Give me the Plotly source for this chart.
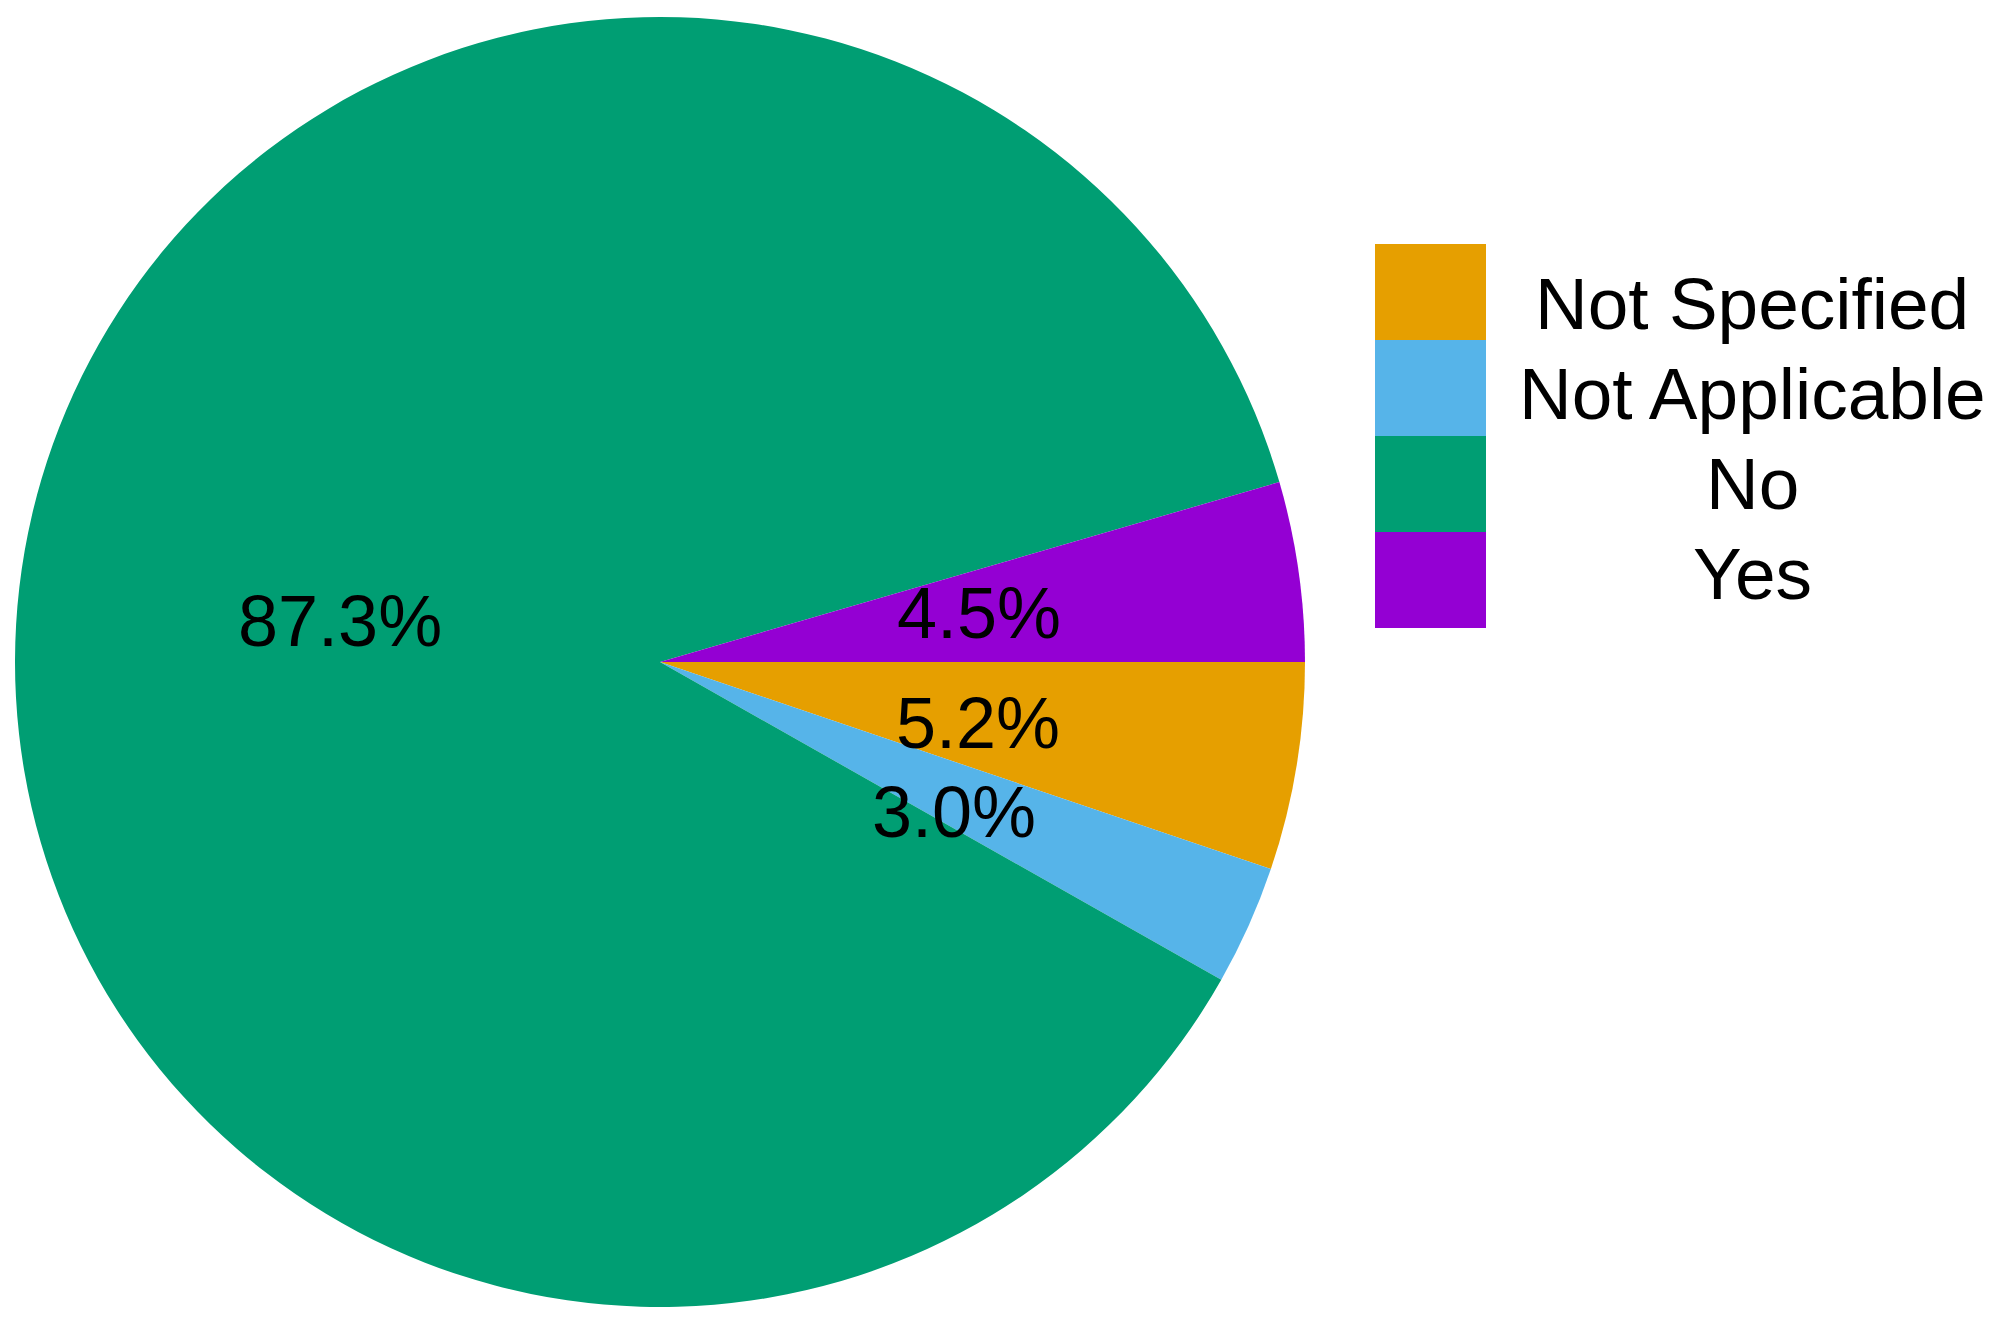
import math

import plotly.graph_objects as go

# Slice data, in the order they are drawn clockwise from 3 o'clock
labels = ["Not Specified", "Not Applicable", "No", "Yes"]
values = [5.2, 3.0, 87.3, 4.5]
colors = ["#E69F00", "#56B4E9", "#009E73", "#9400D3"]

W, H = 2004, 1324
FONT = "Liberation Sans, Arial, Helvetica, sans-serif"

# Page body adds a small offset, so positions are shifted back by it
OFF = 8

# Pie placement in pixels
cx, cy, r = 660 - OFF, 662 - OFF, 645

# Small downward nudges (px) for the crowded labels on the right
label_nudge = [13, 22, 0, 0]

fig = go.Figure(go.Pie(
    labels=labels,
    values=values,
    sort=False,
    direction="clockwise",
    rotation=90,
    marker=dict(colors=colors, line=dict(width=0)),
    textinfo="none",
    hoverinfo="label+percent",
    showlegend=False,
    domain=dict(x=[(cx - r) / W, (cx + r) / W],
                y=[1 - (cy + r) / H, 1 - (cy - r) / H]),
))

# Percent labels at half radius along each slice's mid angle
total = sum(values)
start = 0.0
for v, nudge in zip(values, label_nudge):
    mid = (start + v / 2) / total * 2 * math.pi
    start += v
    px = cx + 0.5 * r * math.cos(mid)
    py = cy + 0.5 * r * math.sin(mid) - 4 + nudge
    fig.add_annotation(
        x=px / W, y=1 - py / H, xref="paper", yref="paper",
        text=f"{v / total * 100:.1f}%", showarrow=False,
        xanchor="center", yanchor="middle",
        font=dict(size=72, color="black", family=FONT),
    )

# Hand-drawn legend: stacked colour keys with centred labels
key_x0, key_x1 = 1375 - OFF, 1486 - OFF
key_top, key_h = 244 - OFF, 96
text_x, text_y0, text_dy = 1752 - OFF, 303 - OFF, 90
for i, (lab, col) in enumerate(zip(labels, colors)):
    y0 = key_top + i * key_h
    fig.add_shape(
        type="rect", xref="paper", yref="paper",
        x0=key_x0 / W, x1=key_x1 / W,
        y0=1 - y0 / H, y1=1 - (y0 + key_h) / H,
        fillcolor=col, line=dict(width=0), layer="above",
    )
    fig.add_annotation(
        x=text_x / W, y=1 - (text_y0 + i * text_dy) / H,
        xref="paper", yref="paper", text=lab, showarrow=False,
        xanchor="center", yanchor="middle",
        font=dict(size=73, color="black", family=FONT),
    )

fig.update_layout(
    width=W, height=H,
    margin=dict(l=0, r=0, t=0, b=0),
    paper_bgcolor="white",
    plot_bgcolor="white",
)

fig.write_html("out.html")
